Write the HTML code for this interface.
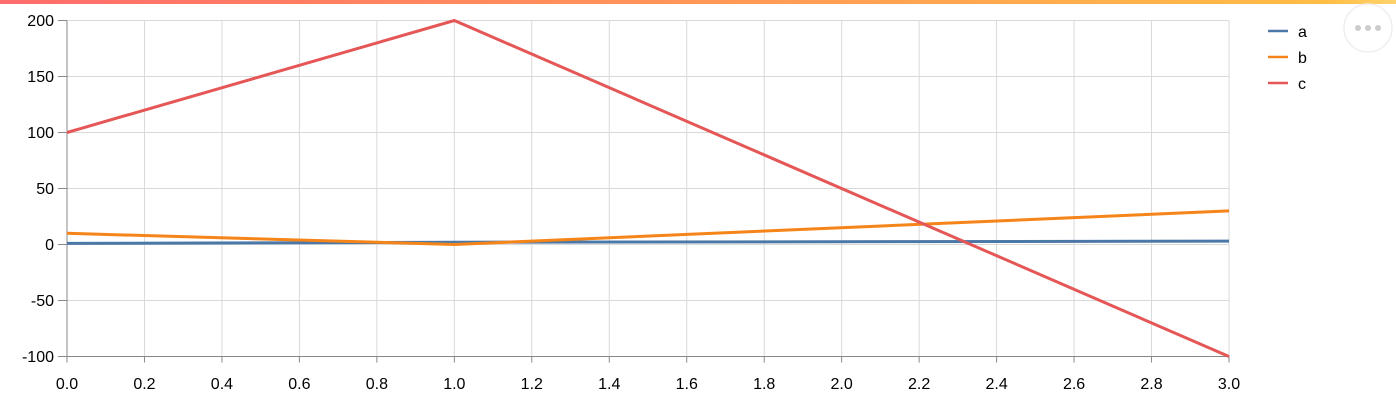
<!DOCTYPE html>
<html><head><meta charset="utf-8"><style>
body{margin:0;background:#fff;width:1396px;height:414px;overflow:hidden;font-family:"Liberation Sans",sans-serif}
#bar{position:absolute;left:0;top:0;width:1396px;height:4px;background:linear-gradient(90deg,#ff6c6c,#ffbd45 95%,#ffd36b)}
</style></head><body>
<div id="bar"></div>
<svg id="chart" width="1396" height="414" style="position:absolute;left:0;top:0">
<g id="grid"></g>
<g id="axes"></g>
<g id="lines"></g>
<g id="legend">
 <line x1="1268" y1="31" x2="1288" y2="31" stroke="#4c78a8" stroke-width="2.5"/>
 <text x="1298" y="37" font-size="16">a</text>
 <line x1="1268" y1="57" x2="1288" y2="57" stroke="#f58518" stroke-width="2.5"/>
 <text x="1298" y="63" font-size="16">b</text>
 <line x1="1268" y1="83" x2="1288" y2="83" stroke="#e45756" stroke-width="2.5"/>
 <text x="1298" y="89" font-size="16">c</text>
</g>
<g>
 <circle cx="1368" cy="28" r="24" fill="#fff" stroke="#eee" stroke-width="1.5"/>
 <circle cx="1358" cy="28" r="3" fill="#ccc"/><circle cx="1368" cy="28" r="3" fill="#ccc"/><circle cx="1378" cy="28" r="3" fill="#ccc"/>
</g>
</svg>
<script>
const xs=[0,1,3];
const seriesA=[1,2,3];
const seriesB=[10,0,30];
const seriesC=[100,200,-100];
const xTicks=[0,0.2,0.4,0.6,0.8,1.0,1.2,1.4,1.6,1.8,2.0,2.2,2.4,2.6,2.8,3.0];
const yTicks=[-100,-50,0,50,100,150,200];
const NS="http://www.w3.org/2000/svg";
const X=v=>67+v*(1229-67)/3;
const Y=v=>244.5-v*1.12;
function mk(t,a,p){const e=document.createElementNS(NS,t);for(const k in a)e.setAttribute(k,a[k]);p.appendChild(e);return e;}
const grid=document.getElementById('grid'),axes=document.getElementById('axes'),lines=document.getElementById('lines');
xTicks.forEach(t=>{
 const l=mk('line',{x1:X(t),x2:X(t),y1:Y(200),y2:Y(-100),stroke:'#d9d9d9'},grid);
 
 
 mk('line',{x1:X(t),x2:X(t),y1:Y(-100),y2:Y(-100)+6,stroke:'#888'},axes);
 const tx=mk('text',{x:X(t),y:389,'font-size':16,'text-anchor':'middle'},axes);
 tx.textContent=t.toFixed(1);
 
 
});
yTicks.forEach(t=>{
 const l=mk('line',{x1:X(0),x2:X(3),y1:Y(t),y2:Y(t),stroke:'#d9d9d9'},grid);
 
 
 mk('line',{x1:X(0)-9,x2:X(0),y1:Y(t),y2:Y(t),stroke:'#888'},axes);
 const tx=mk('text',{x:X(0)-13,y:Y(t)+5.5,'font-size':16,'text-anchor':'end'},axes);
 tx.textContent=t;
 
 
});
mk('line',{x1:X(0),x2:X(0),y1:Y(200),y2:Y(-100),stroke:'#888'},axes);
mk('line',{x1:X(0),x2:X(3),y1:Y(-100),y2:Y(-100),stroke:'#888'},axes);
[[seriesA,'#4c78a8','line-a'],[seriesB,'#f58518','line-b'],[seriesC,'#e45756','line-c']].forEach(([d,c,n])=>{
 const p=mk('polyline',{points:xs.map((x,i)=>X(x)+','+Y(d[i])).join(' '),fill:'none',stroke:c,'stroke-width':3},lines);
 
 
});
</script>
</body></html>
